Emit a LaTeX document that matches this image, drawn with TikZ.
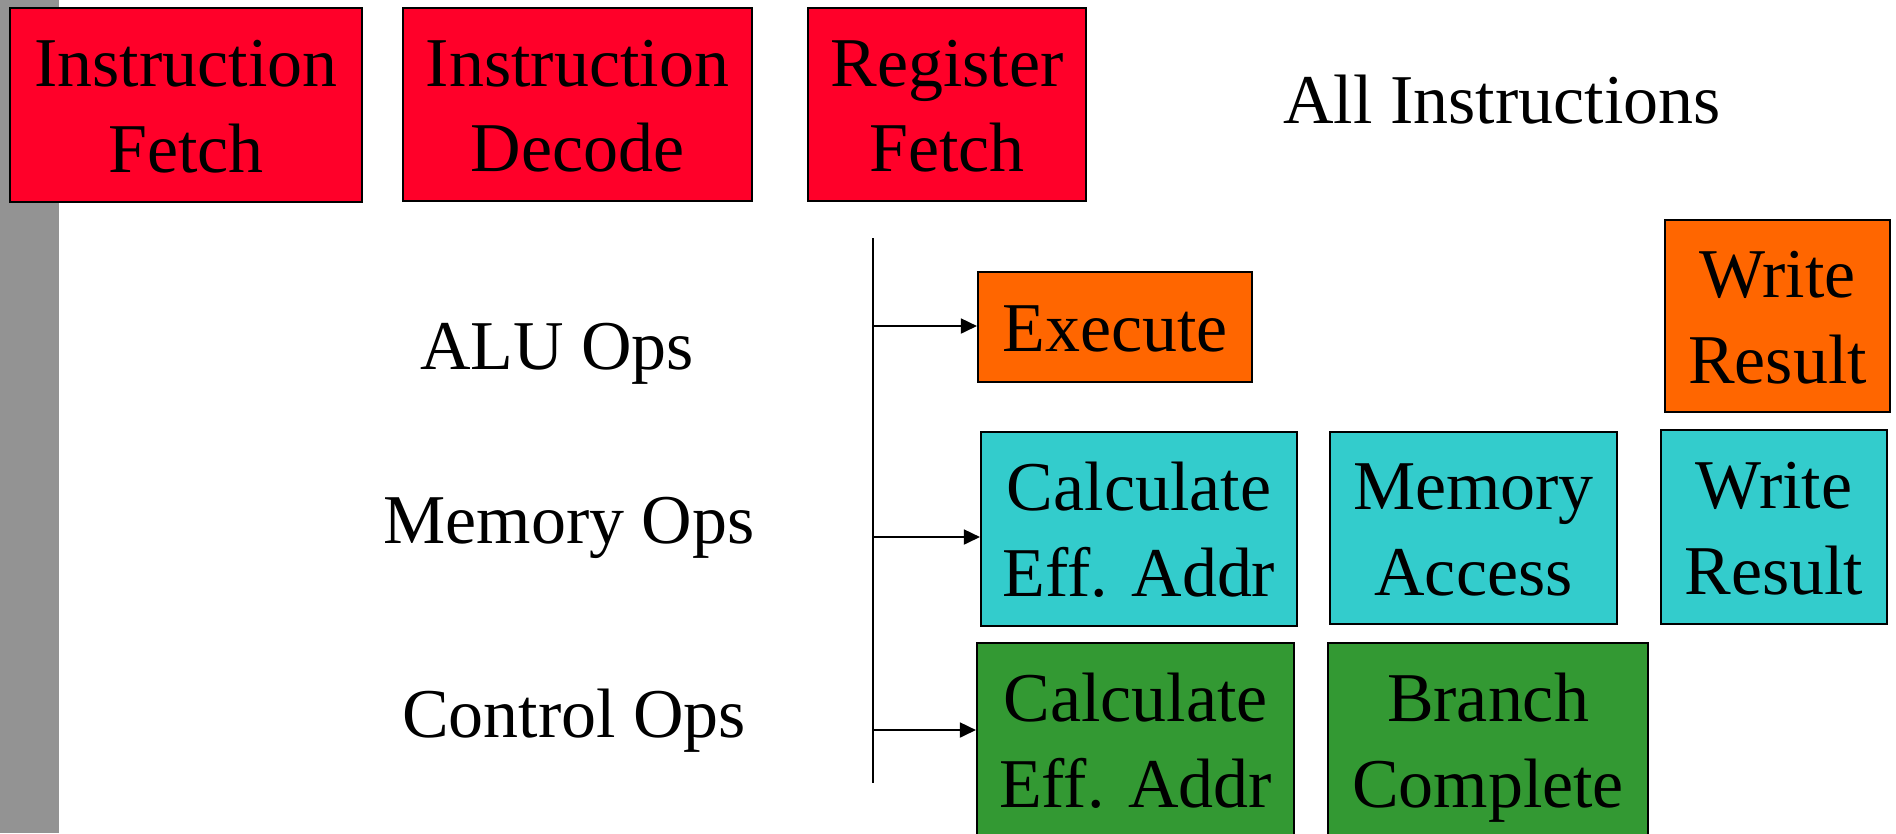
\documentclass[tikz,border=0pt]{standalone}
\usepackage{xcolor}
\usepackage{fontspec}
\setmainfont{Liberation Serif}
\usepackage{tikz}
\usetikzlibrary{arrows.meta}
\definecolor{barGray}{HTML}{939393}
\definecolor{stageRed}{HTML}{FF0029}
\definecolor{stageOrange}{HTML}{FF6600}
\definecolor{stageCyan}{HTML}{33CCCC}
\definecolor{stageGreen}{HTML}{339933}

\begin{document}
\begin{tikzpicture}[
  box/.style={draw, line width=0.6pt, align=center, inner sep=0pt, font=\fontsize{19.9}{24.2}\selectfont,
    text height=1.50cm, text depth=0.16cm},
  txt/.style={inner sep=0pt, anchor=base, font=\fontsize{19.9}{24.2}\selectfont},
  bus/.style={line width=0.8pt},
  feed/.style={line width=0.5pt, -{Triangle[length=0.16cm,width=0.15cm]}}]
\useasboundingbox (0,0) rectangle (18.96,-8.33);
\clip (0,0) rectangle (18.96,-8.33);
\fill[barGray] (0,0) rectangle (0.59,-8.33);
% common stages
\node[box, fill=stageRed, minimum width=3.52cm, minimum height=1.94cm] (IFetch) at (01.8600,-01.0500) {Instruction\\Fetch};
\node[box, fill=stageRed, minimum width=3.49cm, minimum height=1.93cm] (IDecode) at (05.7750,-01.0450) {Instruction\\Decode};
\node[box, fill=stageRed, minimum width=2.78cm, minimum height=1.93cm] (RFetch) at (09.4700,-01.0450) {Register\\Fetch};
\node[txt] (AllLabel) at (15.0200,-01.2300) {All Instructions};
% op classes
\node[txt] (AluLabel) at (05.5700,-03.6900) {ALU Ops};
\node[txt] (MemLabel) at (05.6900,-05.4300) {Memory Ops};
\node[txt] (CtrlLabel) at (05.7400,-07.3700) {Control Ops};
\node[box, fill=stageOrange, minimum width=2.74cm, minimum height=1.10cm, text height=0.65cm] (AluExec) at (11.1500,-03.2700) {Execute};
\node[box, fill=stageOrange, minimum width=2.25cm, minimum height=1.92cm] (AluWrite) at (17.7750,-03.1600) {Write\\Result};
\node[box, fill=stageCyan, minimum width=3.16cm, minimum height=1.94cm] (MemCalc) at (11.3900,-05.2900) {Calculate\\Eff. Addr};
\node[box, fill=stageCyan, minimum width=2.87cm, minimum height=1.92cm] (MemAccess) at (14.7350,-05.2800) {Memory\\Access};
\node[box, fill=stageCyan, minimum width=2.26cm, minimum height=1.94cm] (MemWrite) at (17.7400,-05.2700) {Write\\Result};
\node[box, fill=stageGreen, minimum width=3.17cm, minimum height=1.94cm] (CtrlCalc) at (11.3550,-07.4000) {Calculate\\Eff. Addr};
\node[box, fill=stageGreen, minimum width=3.20cm, minimum height=1.94cm] (CtrlBranch) at (14.8800,-07.4000) {Branch\\Complete};
% dispatch bus
\coordinate (BusTop) at (08.7300,-02.3800);
\coordinate (BusBot) at (08.7300,-07.8300);
\draw[bus] (BusTop) -- (BusBot);
\coordinate (TapAlu) at (08.7300,-03.2600);
\coordinate (TapMem) at (08.7300,-05.3700);
\coordinate (TapCtrl) at (08.7300,-07.3000);
\draw[feed] (TapAlu) -- (TapAlu -| AluExec.west);
\draw[feed] (TapMem) -- (TapMem -| MemCalc.west);
\draw[feed] (TapCtrl) -- (TapCtrl -| CtrlCalc.west);
\end{tikzpicture}
\end{document}
